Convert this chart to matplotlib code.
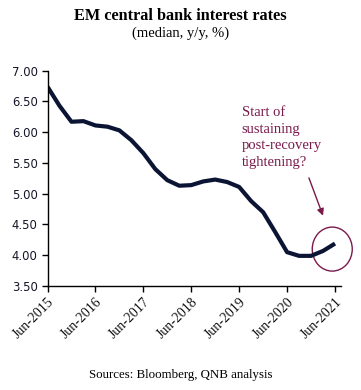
import matplotlib
matplotlib.use("Agg")
import matplotlib.pyplot as plt
from matplotlib.patches import Ellipse

# Quarterly data, Jun-2015 .. Jun-2021
values = [6.74, 6.43, 6.17, 6.18, 6.11, 6.09, 6.03, 5.87, 5.66, 5.40, 5.22, 5.13,
          5.14, 5.20, 5.23, 5.19, 5.11, 4.88, 4.70, 4.38, 4.05, 3.99, 3.99, 4.07, 4.19]
tick_labels = ["Jun-2015", "Jun-2016", "Jun-2017", "Jun-2018", "Jun-2019", "Jun-2020", "Jun-2021"]
yticks = [3.5, 4.0, 4.5, 5.0, 5.5, 6.0, 6.5, 7.0]

plt.rcParams['font.family'] = ['Liberation Serif', 'DejaVu Serif']

fig = plt.figure(figsize=(3.61, 3.90), dpi=100)
ax = fig.add_axes([47.5/361, 1-286/390, (341-47.5)/361, (286-70.7)/390])

x = list(range(len(values)))
ax.plot(x, values, color='#0b1533', lw=3.0, solid_capstyle='butt', solid_joinstyle='round')

ax.set_xlim(0, 24.5)
ax.set_ylim(3.5, 7.0)
ax.set_yticks(yticks)
ax.set_yticklabels([f"{v:.2f}" for v in yticks], fontsize=8.4, color='#15152a',
                   family=['DejaVu Sans'])
ax.set_xticks([0, 4, 8, 12, 16, 20, 24])
ax.set_xticklabels(tick_labels, rotation=45, ha='right', rotation_mode='anchor', fontsize=10, color='#111111')
ax.tick_params(axis='both', direction='out', length=4, width=1, color='black', pad=3)
for s in ['top', 'right']:
    ax.spines[s].set_visible(False)
for s in ['left', 'bottom']:
    ax.spines[s].set_linewidth(1)
    ax.spines[s].set_color('black')

maroon = '#7a1a4c'
# circle around last points (display-pixel sizes converted to data units)
xpp = 24.5 / (341 - 47.5)
ypp = 3.5 / (286 - 70.7)
ax.add_patch(Ellipse((23.77, 4.10), 40*xpp, 44*ypp, fill=False, edgecolor=maroon, lw=1, clip_on=False))
ax.annotate('', xy=(23.08, 4.6), xytext=(21.74, 5.3),
            arrowprops=dict(arrowstyle='-|>', color=maroon, lw=1, mutation_scale=10))
ax.text(16.2, 6.43, "Start of\nsustaining\npost-recovery\ntightening?", color=maroon,
        fontsize=10.5, va='top', ha='left', linespacing=1.38)

fig.text(0.5, 1-16.5/390, "EM central bank interest rates", ha='center', va='center',
         fontsize=11.7, fontweight='bold', color='black')
fig.text(0.5, 1-33/390, "(median, y/y, %)", ha='center', va='center', fontsize=10.5, color='black')
fig.text(181/361, 1-375/390, "Sources: Bloomberg, QNB analysis", ha='center', va='center',
         fontsize=9.3, color='black')

fig.savefig("out.png", dpi=100)
